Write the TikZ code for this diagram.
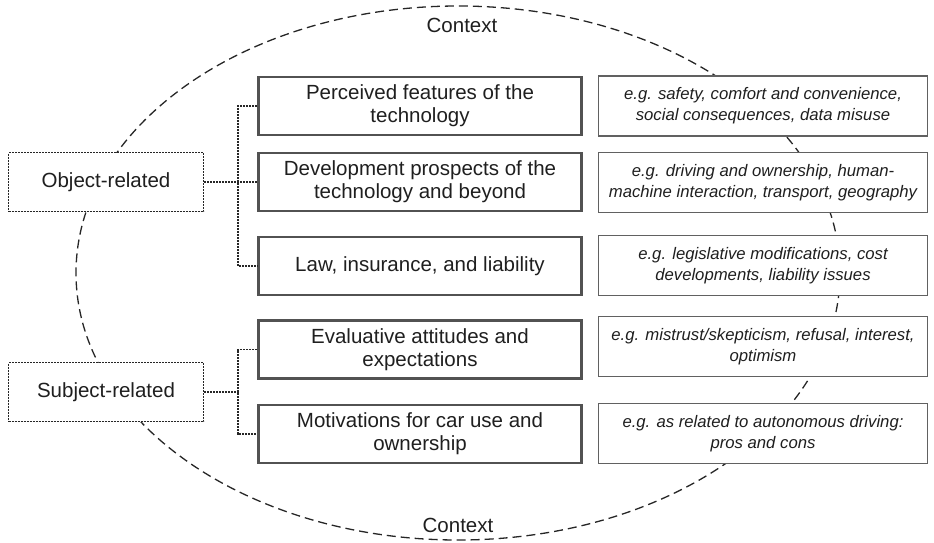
\documentclass[tikz,border=0pt]{standalone}
\usepackage{fontspec}
\setmainfont{Liberation Sans}
\begin{document}
\begin{tikzpicture}[x=1pt,y=-1pt,
  txt/.style={text=black!88},
  mainbox/.style={draw=black!68, line width=2.6pt, fill=white, minimum width=323pt, minimum height=58pt, align=center, inner sep=0pt, txt, font=\fontsize{20.5}{23}\selectfont},
  egbox/.style={draw=black!62, line width=1.3pt, fill=white, minimum width=329pt, minimum height=60pt, align=center, inner sep=0pt, txt, font=\fontsize{16.7}{21}\selectfont\itshape},
  catbox/.style={draw=black!85, line width=1.1pt, dash pattern=on 2pt off 1pt, fill=white, minimum width=195pt, minimum height=59pt, inner sep=0pt, txt, font=\fontsize{20.5}{23}\selectfont},
  link/.style={draw=black!85, line width=1.1pt, dash pattern=on 2pt off 1pt},
  ctx/.style={draw=black!85, line width=1.3pt, dash pattern=on 9pt off 5pt},
  lbl/.style={txt, font=\fontsize{20.5}{23}\selectfont}
]
\useasboundingbox (0,0) rectangle (934,542);
\draw[ctx] (458,273) ellipse [x radius=382pt, y radius=267pt];
\node[lbl] (ctxtop) at (462,25) {Context};
\node[lbl] (ctxbot) at (458,525) {Context};

\node[catbox] (obj) at (106,182) {Object-related};
\node[catbox] (sub) at (106,392) {Subject-related};

\node[mainbox] (m1) at (420,106) {Perceived features of the\\technology};
\node[mainbox] (m2) at (420,182) {Development prospects of the\\technology and beyond};
\node[mainbox] (m3) at (420,266) {Law, insurance, and liability};
\node[mainbox] (m4) at (420,349.5) {Evaluative attitudes and\\expectations};
\node[mainbox] (m5) at (420,434) {Motivations for car use and\\ownership};

\node[egbox] (r1) at (763,106) {e.g. safety, comfort and convenience,\\social consequences, data misuse};
\node[egbox] (r2) at (763,182.5) {e.g. driving and ownership, human-\\machine interaction, transport, geography};
\node[egbox] (r3) at (763,265.5) {e.g. legislative modifications, cost\\developments, liability issues};
\node[egbox] (r4) at (763,346.5) {e.g. mistrust/skepticism, refusal, interest,\\optimism};
\node[egbox] (r5) at (763,433.5) {e.g. as related to autonomous driving:\\pros and cons};

\coordinate (jo) at (238,182);
\coordinate (js) at (238,392);
\draw[link] (obj.east) -- (m2.west);
\draw[link] (m1.west) -| (jo) |- (m3.west);
\draw[link] (sub.east) -- (js);
\draw[link] (m4.west) -| (js) |- (m5.west);
\end{tikzpicture}
\end{document}
